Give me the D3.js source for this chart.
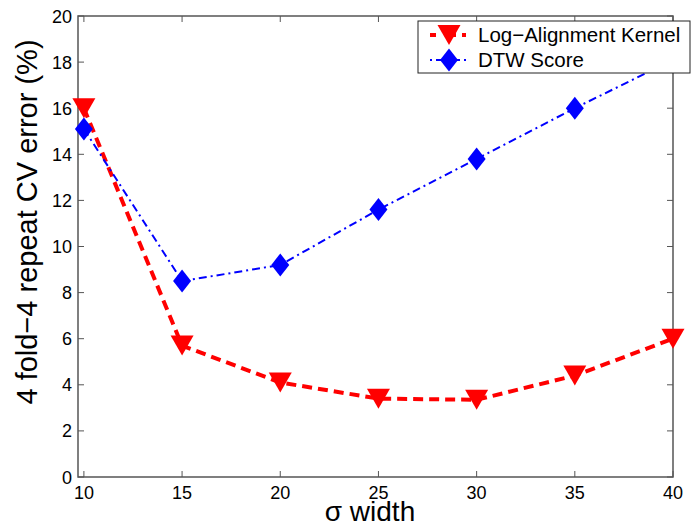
<!DOCTYPE html>
<html>
<head>
<meta charset="utf-8">
<script src="https://cdn.jsdelivr.net/npm/d3@7"></script>
<style>
  body { margin: 0; background: #fff; }
  text { font-family: "Liberation Sans", Arial, Helvetica, sans-serif; }
</style>
</head>
<body>
<div id="chart"></div>
<script>
// data
var sigma = [10, 15, 20, 25, 30, 35, 40];
var logAlign = [16.0, 5.7, 4.1, 3.4, 3.35, 4.4, 6.0];
var dtwScore = [15.1, 8.5, 9.2, 11.6, 13.8, 16.0, 18.1];
var xTicks = [10, 15, 20, 25, 30, 35, 40];
var yTicks = [0, 2, 4, 6, 8, 10, 12, 14, 16, 18, 20];
var seriesNames = ['Log\u2212Alignment Kernel', 'DTW Score'];

var W = 692, H = 526;
var margin = {top: 16, right: 19, bottom: 49, left: 78},
    width = W - margin.left - margin.right,
    height = H - margin.top - margin.bottom;

var svg = d3.select('#chart').append('svg')
    .attr('width', W)
    .attr('height', H);

var g = svg.append('g')
    .attr('transform', 'translate(' + margin.left + ',' + margin.top + ')');

var x = d3.scaleLinear().domain([9.7, 40]).range([0, width]);
var y = d3.scaleLinear().domain([0, 20]).range([height, 0]);

var axisColor = '#555';

// clip so the line leaving the top is cut
svg.append('defs').append('clipPath').attr('id', 'clip')
    .append('rect').attr('width', width).attr('height', height);

// ticks (inside, on all four sides)
var tickLen = 6;
xTicks.forEach(function(t) {
    g.append('line').attr('x1', x(t)).attr('x2', x(t))
        .attr('y1', height).attr('y2', height - tickLen)
        .attr('stroke', axisColor);
    g.append('line').attr('x1', x(t)).attr('x2', x(t))
        .attr('y1', 0).attr('y2', tickLen)
        .attr('stroke', axisColor);
    g.append('text').text(t)
        .attr('x', x(t)).attr('y', height + 22)
        .attr('text-anchor', 'middle')
        .style('font-size', '18px');
});
yTicks.forEach(function(t) {
    g.append('line').attr('x1', 0).attr('x2', tickLen)
        .attr('y1', y(t)).attr('y2', y(t))
        .attr('stroke', axisColor);
    g.append('line').attr('x1', width).attr('x2', width - tickLen)
        .attr('y1', y(t)).attr('y2', y(t))
        .attr('stroke', axisColor);
    g.append('text').text(t)
        .attr('x', -6).attr('y', y(t) + 6.5)
        .attr('text-anchor', 'end')
        .style('font-size', '18px');
});

// frame
g.append('rect').attr('width', width).attr('height', height)
    .attr('fill', 'none').attr('stroke', axisColor).attr('stroke-width', 1.5);

var line = d3.line()
    .x(function(d, i) { return x(sigma[i]); })
    .y(function(d) { return y(d); });

function diamond(cx, cy) {
    return 'M' + cx + ',' + (cy - 11.5) + 'L' + (cx + 9) + ',' + cy +
        'L' + cx + ',' + (cy + 11.5) + 'L' + (cx - 9) + ',' + cy + 'Z';
}
function triDown(cx, cy) {
    return 'M' + (cx - 11.5) + ',' + (cy - 10) + 'L' + (cx + 11.5) + ',' + (cy - 10) +
        'L' + cx + ',' + (cy + 10) + 'Z';
}

var plot = g.append('g').attr('clip-path', 'url(#clip)');

plot.append('path').datum(logAlign)
    .attr('d', line)
    .attr('fill', 'none')
    .attr('stroke', '#ff0000')
    .attr('stroke-width', 4)
    .attr('stroke-dasharray', '10,6');

g.selectAll('.lak').data(logAlign).enter().append('path')
    .attr('class', 'lak')
    .attr('d', function(d, i) { return triDown(x(sigma[i]), y(d)); })
    .attr('fill', '#ff0000');

plot.append('path').datum(dtwScore)
    .attr('d', line)
    .attr('fill', 'none')
    .attr('stroke', '#0000ff')
    .attr('stroke-width', 2)
    .attr('stroke-dasharray', '8,4,2,4');

g.selectAll('.dtw').data(dtwScore).enter().append('path')
    .attr('class', 'dtw')
    .attr('d', function(d, i) { return diamond(x(sigma[i]), y(d)); })
    .attr('fill', '#0000ff');

// legend
var lg = svg.append('g').attr('transform', 'translate(418,21)');
lg.append('rect').attr('width', 272).attr('height', 52)
    .attr('fill', '#fff').attr('stroke', '#222').attr('stroke-width', 1);
lg.append('line').attr('x1', 12).attr('x2', 48).attr('y1', 14).attr('y2', 14)
    .attr('stroke', '#ff0000').attr('stroke-width', 4).attr('stroke-dasharray', '6,14,6');
lg.append('path').attr('d', triDown(31, 14)).attr('fill', '#ff0000');
lg.append('line').attr('x1', 12).attr('x2', 48).attr('y1', 39).attr('y2', 39)
    .attr('stroke', '#0000ff').attr('stroke-width', 2).attr('stroke-dasharray', '2,4,6,12,6,4,2');
lg.append('path').attr('d', diamond(31, 39)).attr('fill', '#0000ff');
lg.selectAll('.lt').data(seriesNames).enter().append('text')
    .attr('x', 60)
    .attr('y', function(d, i) { return 21 + i * 25; })
    .text(function(d) { return d; })
    .style('font-size', '20.5px');

// axis titles
svg.append('text')
    .attr('transform', 'translate(37,222) rotate(-90)')
    .attr('text-anchor', 'middle')
    .style('font-size', '29px')
    .text('4 fold\u22124 repeat CV error (%)');

svg.append('text')
    .attr('x', 370).attr('y', 521)
    .attr('text-anchor', 'middle')
    .style('font-size', '28px')
    .text('\u03c3 width');
</script>
</body>
</html>
